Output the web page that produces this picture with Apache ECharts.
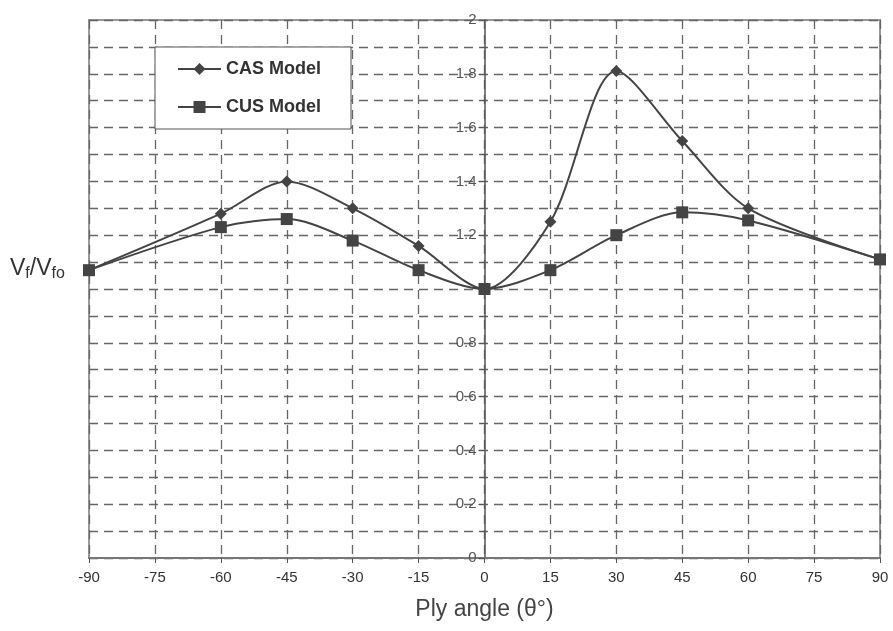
<!DOCTYPE html>
<html>
<head>
<meta charset="utf-8">
<script src="https://cdn.jsdelivr.net/npm/echarts@6/dist/echarts.min.js"></script>
<style>
  html, body { margin: 0; padding: 0; background: #fff; }
  #main { width: 893px; height: 631px; }
</style>
</head>
<body>
<div id="main"></div>
<script>
// ply angles (deg)
const angles = [-90, -60, -45, -30, -15, 0, 15, 30, 45, 60, 90];
// Vf/Vfo values
const casValues = [1.07, 1.28, 1.40, 1.30, 1.16, 1.00, 1.25, 1.81, 1.55, 1.30, 1.11];
const cusValues = [1.07, 1.23, 1.26, 1.18, 1.07, 1.00, 1.07, 1.20, 1.285, 1.255, 1.11];

const ink = '#444';
const gridCol = '#666';
const gridLeft = 89, gridRight = 13;
// y axis sits on angle 0, i.e. middle of plot width
const yOffset = -(893 - gridLeft - gridRight) / 2;

function pairs(xs, ys) {
  let arr = [];
  for (let i = 0; i < xs.length; i++) arr.push([xs[i], ys[i]]);
  return arr;
}

let chart = echarts.init(document.getElementById('main'));
let option = {
  backgroundColor: '#fff',
  animation: false,
  textStyle: { fontFamily: 'Liberation Sans, Arial, sans-serif' },
  grid: {
    left: gridLeft, right: gridRight, top: 20, bottom: 73,
    show: true,
    borderColor: '#999',
    borderWidth: 2
  },
  legend: {
    left: 155, top: 47,
    orient: 'vertical',
    backgroundColor: '#fff',
    borderColor: '#555',
    borderWidth: 1,
    padding: [13, 30, 13, 22],
    itemGap: 20,
    itemWidth: 43,
    itemHeight: 15,
    textStyle: { fontSize: 18, color: '#333', fontWeight: 'bold' },
    data: ['CAS Model', 'CUS Model']
  },
  xAxis: {
    type: 'value',
    min: -90, max: 90, interval: 15,
    name: 'Ply angle (θ°)',
    nameLocation: 'middle',
    nameGap: 40,
    nameTextStyle: { fontSize: 23, color: '#444' },
    axisLine: { show: true, lineStyle: { color: '#777', width: 2 } },
    axisTick: { show: true, length: 5, lineStyle: { color: '#555' } },
    axisLabel: { fontSize: 15, color: '#333', margin: 12 },
    splitLine: { show: true, lineStyle: { color: gridCol, type: [9, 6], width: 1.3 } }
  },
  yAxis: {
    type: 'value',
    min: 0, max: 2, interval: 0.2,
    offset: yOffset,
    axisLine: { show: true, onZero: false, lineStyle: { color: '#555', width: 1.5 } },
    axisTick: { show: true, length: 6, lineStyle: { color: '#555' } },
    minorTick: { show: true, splitNumber: 2, length: 4, lineStyle: { color: '#555' } },
    axisLabel: {
      fontSize: 15, color: '#555', margin: 8,
      formatter: function (v) { return Math.abs(v - 1) < 1e-9 ? '' : String(+v.toFixed(1)); }
    },
    splitLine: { show: true, lineStyle: { color: gridCol, type: [9, 6], width: 1.3 } },
    minorSplitLine: { show: true, lineStyle: { color: gridCol, type: [9, 6], width: 1.3 } }
  },
  graphic: [{
    type: 'text',
    left: 10, top: 257,
    style: {
      text: 'V{s|f}/V{s|fo}',
      fontSize: 23,
      fill: '#333',
      fontFamily: 'Liberation Sans, Arial, sans-serif',
      rich: {
        s: { fontSize: 16, fill: '#333', padding: [10, 0, 0, 0], fontFamily: 'Liberation Sans, Arial, sans-serif' }
      }
    }
  }],
  series: [
    {
      name: 'CAS Model',
      type: 'line',
      smooth: 0.3,
      data: pairs(angles, casValues),
      symbol: 'diamond',
      symbolSize: 12,
      lineStyle: { color: ink, width: 2 },
      itemStyle: { color: ink },
      z: 3
    },
    {
      name: 'CUS Model',
      type: 'line',
      smooth: 0.3,
      data: pairs(angles, cusValues),
      symbol: 'rect',
      symbolSize: 12,
      lineStyle: { color: ink, width: 2 },
      itemStyle: { color: ink },
      z: 3
    }
  ]
};
chart.setOption(option);
window.addEventListener('resize', chart.resize);
</script>
</body>
</html>
